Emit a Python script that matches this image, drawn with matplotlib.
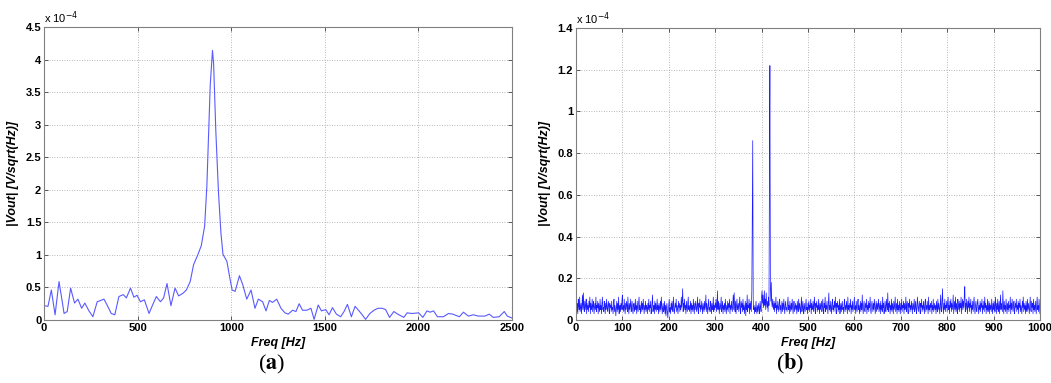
import numpy as np
import matplotlib
matplotlib.use("Agg")
import matplotlib.pyplot as plt

# (a) low-resolution spectrum, amplitude in units of 1e-4 V/sqrt(Hz)
freq_a = [0, 21, 39, 59, 80, 99, 107, 124, 142, 163, 181, 201, 218, 240, 261,
          284, 320, 337, 359, 378, 400, 423, 440, 462, 480, 497, 515, 536, 561,
          577, 600, 622, 639, 657, 678, 700, 719, 742, 760, 781, 799, 820, 840,
          858, 870, 888, 900, 906, 918, 932, 945, 956, 977, 993, 1005, 1021,
          1044, 1062, 1083, 1106, 1127, 1145, 1168, 1186, 1204, 1221, 1243,
          1266, 1287, 1305, 1328, 1346, 1363, 1381, 1404, 1426, 1443, 1465,
          1482, 1505, 1523, 1541, 1562, 1585, 1603, 1621, 1642, 1662, 1683,
          1700, 1718, 1741, 1763, 1784, 1807, 1825, 1846, 1869, 1890, 1922,
          1940, 1966, 2001, 2024, 2046, 2063, 2081, 2102, 2134, 2161, 2184,
          2219, 2241, 2267, 2294, 2320, 2356, 2379, 2400, 2432, 2459, 2475, 2500]
vout_a = [0.22, 0.21, 0.46, 0.08, 0.59, 0.25, 0.10, 0.13, 0.49, 0.26, 0.32, 0.18,
          0.26, 0.14, 0.05, 0.28, 0.32, 0.23, 0.10, 0.08, 0.36, 0.39, 0.34, 0.49,
          0.35, 0.38, 0.28, 0.31, 0.10, 0.21, 0.36, 0.28, 0.34, 0.56, 0.22, 0.49,
          0.37, 0.41, 0.46, 0.59, 0.85, 0.99, 1.14, 1.44, 2.06, 3.61, 4.14, 3.94,
          2.89, 1.96, 1.34, 1.01, 0.90, 0.64, 0.46, 0.44, 0.68, 0.54, 0.32, 0.46,
          0.18, 0.32, 0.28, 0.14, 0.30, 0.27, 0.32, 0.18, 0.11, 0.09, 0.15, 0.13,
          0.25, 0.15, 0.15, 0.18, 0.01, 0.23, 0.14, 0.16, 0.08, 0.19, 0.09, 0.05,
          0.13, 0.24, 0.05, 0.21, 0.14, 0.08, 0.01, 0.10, 0.15, 0.18, 0.18, 0.16,
          0.04, 0.13, 0.09, 0.04, 0.11, 0.10, 0.11, 0.04, 0.14, 0.12, 0.14, 0.05,
          0.05, 0.10, 0.09, 0.05, 0.12, 0.06, 0.08, 0.06, 0.06, 0.09, 0.04, 0.05,
          0.13, 0.06, 0.03]

# (b) 1 Hz resolution spectrum 0..1000 Hz, amplitude in units of 1e-6 V/sqrt(Hz)
vout_b_1e6 = [
    6, 9, 4, 8, 3, 10, 7, 5, 11, 4, 6, 8, 3, 7, 12, 5, 13, 6, 4, 9, 5, 7, 10, 3, 8,
    5, 7, 4, 9, 6, 11, 3, 8, 5, 6, 10, 4, 7, 9, 3, 6, 8, 5, 11, 4, 7, 6, 9, 3, 8,
    6, 4, 10, 5, 7, 3, 8, 11, 5, 6, 4, 9, 7, 3, 8, 5, 10, 6, 4, 7, 9, 5, 3, 8, 6,
    7, 4, 9, 5, 6, 3, 8, 10, 4, 7, 5, 2, 6, 9, 4, 8, 5, 11, 3, 6, 7, 4, 8, 5, 9,
    12, 5, 7, 4, 10, 6, 3, 8, 5, 9, 7, 4, 11, 6, 3, 8, 5, 7, 10, 4, 6, 9, 5, 3, 7,
    8, 4, 6, 10, 5, 7, 3, 9, 6, 4, 8, 11, 5, 7, 3, 6, 9, 4, 8, 5, 10, 6, 3, 7, 5,
    9, 4, 7, 6, 3, 8, 5, 10, 4, 7, 6, 9, 3, 5, 8, 12, 4, 6, 7, 3, 9, 5, 8, 4, 6,
    10, 5, 7, 3, 8, 6, 4, 9, 5, 11, 7, 3, 6, 8, 4, 5, 9, 3, 7, 2, 6, 8, 4, 1, 5,
    7, 10, 4, 6, 3, 8, 5, 9, 6, 4, 11, 7, 3, 5, 8, 6, 10, 4, 7, 5, 3, 9, 6, 8, 4,
    7, 5, 11, 6, 9, 15, 4, 8, 6, 10, 5, 7, 3, 9, 6, 4, 8, 11, 5, 7, 4, 6, 9, 3, 8,
    5, 7, 4, 10, 6, 3, 8, 5, 9, 7, 4, 6, 11, 5, 3, 8, 6, 10, 4, 7, 5, 9, 6, 3, 8,
    6, 4, 9, 5, 7, 12, 4, 8, 6, 3, 7, 10, 5, 6, 4, 9, 7, 3, 8, 5, 6, 11, 4, 7, 5,
    8, 6, 10, 4, 7, 14, 5, 9, 6, 3, 8, 5, 7, 11, 4, 6, 9, 3, 7, 5, 8, 4, 10, 6, 3,
    7, 5, 9, 4, 8, 6, 10, 3, 7, 5, 9, 6, 4, 8, 12, 5, 13, 6, 4, 9, 3, 7, 10, 5, 6,
    8, 4, 7, 11, 5, 3, 9, 6, 8, 4, 10, 5, 7, 3, 6, 9, 2, 8, 5, 12, 4, 7, 6, 10, 3,
    8, 5, 9, 4, 14, 52, 86, 10, 5, 7, 3, 6, 4, 9, 5, 3, 7, 4, 6, 8, 3, 5, 9, 6, 4,
    11, 14, 8, 12, 6, 9, 14, 7, 10, 5, 13, 8, 6, 9, 4, 11, 7, 73, 122, 16, 9, 18, 8, 6, 10,
    7, 5, 9, 4, 8, 6, 11, 3, 7, 5, 9, 6, 4, 8, 10, 5, 7, 3, 6, 9, 4, 8, 5, 10, 6,
    3, 7, 9, 5, 6, 4, 8, 11, 5, 7, 3, 9, 6, 4, 8, 5, 10, 6, 3, 7, 9, 4, 6, 8, 5,
    7, 3, 9, 6, 4, 10, 5, 8, 6, 3, 7, 11, 4, 6, 9, 5, 3, 8, 6, 4, 7, 10, 5, 6, 3,
    8, 5, 9, 4, 7, 6, 10, 3, 8, 5, 6, 9, 4, 7, 11, 5, 3, 8, 6, 9, 4, 7, 5, 10, 6,
    3, 8, 5, 7, 9, 4, 6, 10, 5, 3, 8, 6, 11, 4, 7, 5, 9, 6, 3, 8, 13, 5, 7, 4, 9,
    6, 3, 8, 10, 5, 7, 4, 9, 6, 11, 5, 3, 8, 6, 9, 4, 7, 5, 10, 3, 6, 8, 4, 7, 9,
    5, 6, 3, 8, 10, 4, 7, 5, 9, 6, 3, 11, 5, 7, 4, 8, 6, 10, 3, 7, 5, 9, 4, 6, 8,
    11, 5, 7, 3, 9, 6, 4, 8, 10, 5, 7, 3, 6, 9, 4, 8, 5, 12, 6, 3, 7, 9, 5, 4, 8,
    6, 10, 3, 7, 5, 9, 4, 8, 6, 11, 5, 3, 7, 9, 6, 4, 8, 5, 10, 7, 3, 6, 9, 4, 8,
    5, 7, 10, 4, 6, 8, 3, 9, 5, 7, 4, 11, 6, 8, 3, 5, 9, 6, 4, 10, 7, 5, 13, 4, 8,
    6, 9, 3, 7, 5, 10, 4, 8, 6, 3, 9, 5, 7, 11, 4, 6, 8, 3, 10, 5, 7, 4, 9, 6, 3,
    8, 5, 10, 4, 7, 6, 9, 3, 8, 5, 6, 11, 4, 7, 9, 5, 3, 8, 6, 10, 4, 7, 5, 9, 6,
    3, 8, 5, 7, 10, 4, 6, 9, 5, 3, 8, 11, 6, 4, 7, 9, 5, 3, 8, 6, 10, 4, 7, 5, 9,
    6, 3, 8, 10, 4, 7, 5, 9, 6, 3, 11, 5, 7, 4, 8, 6, 9, 3, 7, 5, 10, 4, 6, 8, 5,
    7, 3, 9, 6, 4, 10, 5, 8, 6, 3, 7, 12, 5, 4, 9, 15, 6, 3, 8, 5, 10, 4, 7, 6, 9,
    4, 8, 11, 5, 7, 3, 9, 6, 10, 4, 8, 5, 7, 12, 3, 6, 9, 5, 11, 4, 8, 6, 3, 10, 7,
    5, 9, 4, 8, 6, 11, 3, 7, 10, 5, 9, 6, 12, 16, 4, 8, 5, 10, 7, 3, 9, 6, 11, 4, 8,
    6, 10, 3, 7, 5, 9, 4, 8, 11, 6, 3, 7, 9, 5, 4, 8, 10, 6, 3, 7, 5, 9, 4, 8, 6,
    10, 3, 7, 5, 9, 4, 11, 6, 8, 3, 7, 5, 10, 4, 6, 9, 3, 8, 5, 7, 4, 10, 6, 3, 8,
    5, 9, 6, 4, 11, 7, 3, 8, 5, 10, 4, 6, 9, 3, 7, 12, 5, 8, 6, 4, 14, 7, 3, 9, 5,
    7, 4, 10, 6, 3, 8, 5, 9, 4, 7, 6, 11, 3, 8, 5, 10, 6, 4, 7, 9, 3, 5, 8, 6, 10,
    4, 7, 5, 9, 3, 8, 6, 10, 4, 7, 5, 3, 9, 6, 11, 4, 8, 5, 7, 3, 9, 6, 4, 10, 5,
    8, 6, 3, 7, 11, 5, 4, 9, 6, 8, 3, 10, 5, 7, 4, 9, 6, 3, 8, 11, 5, 7, 4, 10, 6,
    3]

ticks_a_x = [0, 500, 1000, 1500, 2000, 2500]
ticks_a_y = [0, 0.5, 1, 1.5, 2, 2.5, 3, 3.5, 4, 4.5]
ticks_b_x = list(range(0, 1001, 100))
ticks_b_y = [0, 0.2, 0.4, 0.6, 0.8, 1.0, 1.2, 1.4]

plt.rcParams['font.family'] = ['Liberation Sans', 'DejaVu Sans']

fig = plt.figure(figsize=(10.51, 3.83), dpi=100)
ax1 = fig.add_axes([0.0419, 0.1645, 0.4452, 0.765])
ax2 = fig.add_axes([0.548, 0.1645, 0.4415, 0.7624])

freq_b = np.linspace(0, 1000, len(vout_b_1e6))
vout_b = np.array(vout_b_1e6) / 100.0   # to units of 1e-4

ax1.plot(freq_a, vout_a, color='#5a5aff', lw=0.8)
ax2.plot(freq_b, vout_b, color='#1a1aff', lw=0.5)


def style(ax, xt, yt, xlim, ylim, ylabels):
    ax.set_xlim(xlim)
    ax.set_ylim(ylim)
    ax.set_xticks(xt)
    ax.set_yticks(yt)
    ax.set_xticklabels([str(v) for v in xt])
    ax.set_yticklabels(ylabels)
    ax.tick_params(direction='in', length=3, width=0.6, top=True, right=True,
                   labelsize=8, colors='#404040', labelcolor='black', pad=2)
    for lbl in ax.get_xticklabels() + ax.get_yticklabels():
        lbl.set_fontweight('bold')
    ax.grid(True, linestyle=(0, (1, 2)), color='#a0a0a0', lw=0.6)
    for sp in ax.spines.values():
        sp.set_color('#808080')
        sp.set_linewidth(0.8)
    ax.set_xlabel('Freq [Hz]', fontsize=9, fontweight='bold', style='italic', labelpad=3)
    ax.set_ylabel('|Vout| [V/sqrt(Hz)]', fontsize=9, fontweight='bold', style='italic', labelpad=5)
    ax.text(0.0, 1.005, r'x 10$^{-4}$', transform=ax.transAxes, fontsize=8,
            ha='left', va='bottom')


style(ax1, ticks_a_x, ticks_a_y, (0, 2500), (0, 4.5),
      ['0', '0.5', '1', '1.5', '2', '2.5', '3', '3.5', '4', '4.5'])
style(ax2, ticks_b_x, ticks_b_y, (0, 1000), (0, 1.4),
      ['0', '0.2', '0.4', '0.6', '0.8', '1', '1.2', '1.4'])

# panel captions
for cx, letter in [(272, 'a'), (790, 'b')]:
    fig.text(cx / 1051, 1 - 364 / 383, r'($\mathbf{%s}$)' % letter, fontsize=16,
             family='Liberation Serif', math_fontfamily='stix',
             ha='center', va='center')

fig.savefig('out.png', dpi=100)
